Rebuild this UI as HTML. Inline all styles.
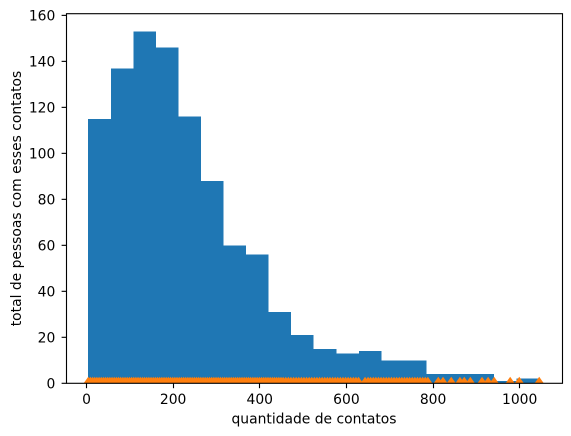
<!DOCTYPE html>
<html lang="pt">
<head>
<meta charset="utf-8">
<title>Histograma de contatos</title>
<style>
html,body{margin:0;padding:0;background:#fff;}
svg{display:block;}
text{font-family:"DejaVu Sans",sans-serif;font-size:13.89px;fill:#000;}
</style>
</head>
<body>
<svg id="chart" xmlns="http://www.w3.org/2000/svg" width="571" height="436" viewBox="0 0 571 436">
<defs><clipPath id="plot-clip"><rect x="66.5" y="13.7" width="496" height="369.6"></rect></clipPath></defs>
<rect x="0" y="0" width="571" height="436" fill="#fff"></rect>
<g id="bars" clip-path="url(#plot-clip)" shape-rendering="crispEdges"></g>
<g id="markers" clip-path="url(#plot-clip)"></g>
<rect x="66.5" y="13.7" width="496" height="369.6" fill="none" stroke="#000" stroke-width="1.11"></rect>
<g id="ticks"></g>
<text x="314" y="423.5" text-anchor="middle">quantidade de contatos</text>
<text transform="translate(20.8 198.5) rotate(-90)" text-anchor="middle">total de pessoas com esses contatos</text>
</svg>
<script>
const binCounts = [115,137,153,146,116,88,60,56,31,21,15,13,14,10,10,4,4,4,1,2];
const binStart = 4;
const binWidth = 52.05;
const xTickValues = [0,200,400,600,800,1000];
const yTickValues = [0,20,40,60,80,100,120,140,160];
const contactValues = [4,9,14,19,24,29,34,39,44,49,54,59,64,69,74,79,84,89,94,99,104,109,114,119,124,129,134,139,144,149,154,159,164,169,174,179,184,189,194,199,204,209,214,219,224,229,234,239,244,249,254,259,264,269,274,279,284,289,294,299,304,309,314,319,324,329,334,339,344,349,354,359,364,369,374,379,384,389,394,399,404,409,414,419,424,429,434,439,444,449,454,460,466,472,478,484,490,496,502,508,514,520,526,532,538,544,550,556,562,568,574,580,586,592,598,604,610,616,622,628,643,650,656,662,668,674,680,686,692,698,704,710,716,722,728,734,740,746,752,758,764,770,776,782,788,812,823,842,862,872,886,913,927,941,978,999,1045];
const markerLevel = 0;

const svgNS = 'http://www.w3.org/2000/svg';
const xOrigin = 86.5, xPerUnit = 0.4332;
const yOrigin = 383.3, yPerUnit = 2.2995;
function xScale(v){ return xOrigin + v * xPerUnit; }
function yScale(v){ return yOrigin - v * yPerUnit; }
function snap(p){ return Math.round(p - 0.5) + 0.5; }
function make(tag, attrs){
  const el = document.createElementNS(svgNS, tag);
  Object.keys(attrs).forEach(function(k){ el.setAttribute(k, attrs[k]); });
  return el;
}

const barsGroup = document.getElementById('bars');
binCounts.forEach(function(count, i){
  const x0 = xScale(binStart + i * binWidth);
  const x1 = xScale(binStart + (i + 1) * binWidth);
  const bar = make('rect', {x:x0, y:yScale(count), width:x1 - x0, height:yScale(0) - yScale(count), fill:'#1f77b4'});
  
  
  barsGroup.appendChild(bar);
});

const markersGroup = document.getElementById('markers');
const markerHalfWidth = 4.6;
const markerRise = 6.6;
contactValues.forEach(function(v){
  const cx = xScale(v), cy = yScale(markerLevel);
  const points = cx + ',' + (cy - markerRise) + ' ' + (cx - markerHalfWidth) + ',' + cy + ' ' + (cx + markerHalfWidth) + ',' + cy;
  const tri = make('polygon', {points:points, fill:'#ff7f0e'});
  
  
  markersGroup.appendChild(tri);
});

const ticksGroup = document.getElementById('ticks');
xTickValues.forEach(function(v){
  const px = snap(xScale(v));
  const tick = make('line', {x1:px, x2:px, y1:383.3, y2:388.2, stroke:'#000', 'stroke-width':1.11});
  
  
  ticksGroup.appendChild(tick);
  const label = make('text', {x:xScale(v), y:404, 'text-anchor':'middle'});
  label.textContent = String(v);
  
  
  ticksGroup.appendChild(label);
});
yTickValues.forEach(function(v){
  const py = yScale(v);
  const tick = make('line', {x1:61.6, x2:66.5, y1:py, y2:py, stroke:'#000', 'stroke-width':1.11});
  
  
  ticksGroup.appendChild(tick);
  const label = make('text', {x:55.3, y:py + 5, 'text-anchor':'end'});
  label.textContent = String(v);
  
  
  ticksGroup.appendChild(label);
});
</script>
</body>
</html>
